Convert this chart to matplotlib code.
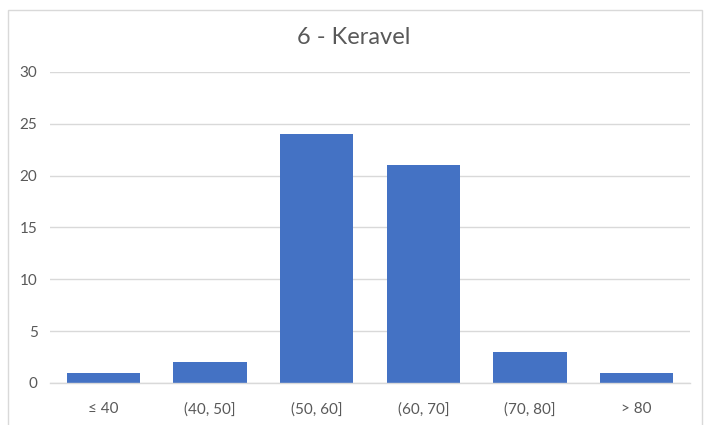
import matplotlib
matplotlib.use("Agg")
import matplotlib.pyplot as plt
from matplotlib.patches import Rectangle

categories = ["≤ 40", "(40, 50]", "(50, 60]", "(60, 70]", "(70, 80]", "> 80"]
counts = [1, 2, 24, 21, 3, 1]
y_ticks = [0, 5, 10, 15, 20, 25, 30]
title = "6 - Keravel"

plt.rcParams["font.family"] = ["Lato", "DejaVu Sans"]

W, H = 708, 425
fig = plt.figure(figsize=(W / 100, H / 100), dpi=100)
fig.patch.set_facecolor("white")

# chart frame
fig.add_artist(Rectangle((8 / W, -0.05), (702 - 8) / W, 1.05 - 10 / H,
                         transform=fig.transFigure, fill=False,
                         edgecolor="#d9d9d9", linewidth=1))

ax = fig.add_axes([50 / W, 1 - 383 / H, (690 - 50) / W, (383 - 72) / H])
x = range(len(categories))
ax.bar(x, counts, width=0.69, color="#4472C4", zorder=3)

ax.set_xlim(-0.5, len(categories) - 0.5)
ax.set_ylim(0, 30)
ax.set_yticks(y_ticks)
ax.set_xticks(list(x))
ax.set_xticklabels(categories)
ax.yaxis.grid(True, color="#d9d9d9", linewidth=1, zorder=0)
for s in ["top", "right", "left"]:
    ax.spines[s].set_visible(False)
ax.spines["bottom"].set_color("#d9d9d9")
ax.spines["bottom"].set_linewidth(1)
ax.spines["bottom"].set_zorder(4)
ax.tick_params(axis="both", length=0, colors="#595959", labelsize=11)
ax.tick_params(axis="x", pad=14)
ax.tick_params(axis="y", pad=9)

fig.text(0.5, 1 - 38 / H, title, ha="center", va="center",
         fontsize=17, color="#595959")

fig.savefig("out.png", dpi=100)
